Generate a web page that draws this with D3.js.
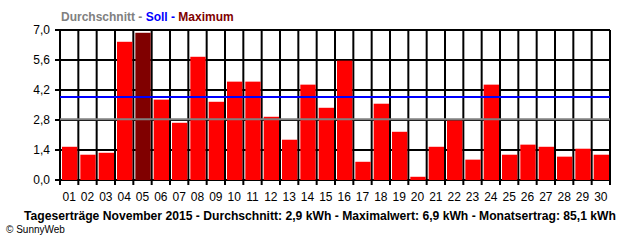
<!DOCTYPE html>
<html>
<head>
<meta charset="utf-8">
<script src="https://cdn.jsdelivr.net/npm/d3@7"></script>
<style>
  body { margin: 0; background: #fff; }
  svg { display: block; font-family: "Liberation Sans", Arial, sans-serif; }
</style>
</head>
<body>
<script>
// Daten
const tage = ['01', '02', '03', '04', '05', '06', '07', '08', '09', '10',
  '11', '12', '13', '14', '15', '16', '17', '18', '19', '20',
  '21', '22', '23', '24', '25', '26', '27', '28', '29', '30']

const ertrag = [1.55, 1.18, 1.27, 6.45, 6.87, 3.75, 2.67, 5.75, 3.65, 4.59,
  4.59, 2.95, 1.88, 4.45, 3.37, 5.57, 0.85, 3.56, 2.25, 0.15,
  1.55, 2.78, 0.95, 4.45, 1.18, 1.65, 1.55, 1.09, 1.46, 1.18]

const yTicks = [0, 1.4, 2.8, 4.2, 5.6, 7.0]
const durchschnitt = 2.84
const soll = 3.87

const titelTeile = [
  {text: 'Durchschnitt - ', farbe: '#808080'},
  {text: 'Soll - ', farbe: '#0000ff'},
  {text: 'Maximum', farbe: '#800000'}
]
const unterschrift = 'Tageserträge November 2015 - Durchschnitt: 2,9 kWh - Maximalwert: 6,9 kWh - Monatsertrag: 85,1 kWh'

// Abmessungen
const breite = 640
const hoehe = 240
const plot = {links: 60, rechts: 610, oben: 30, unten: 180}

const svg = d3.select('body').append('svg')
  .attr('width', breite)
  .attr('height', hoehe)

// Skalen
const x = d3.scaleBand()
  .domain(tage)
  .range([plot.links, plot.rechts])

const y = d3.scaleLinear()
  .domain([0, 7])
  .range([plot.unten, plot.oben])

const komma = d3.format('.1f')
const fmt = v => komma(v).replace('.', ',')

// horizontale Gitterlinien (mit Strich links)
svg.append('g').selectAll('line')
  .data(yTicks)
  .join('line')
    .attr('x1', plot.links - 5)
    .attr('x2', plot.rechts)
    .attr('y1', d => y(d))
    .attr('y2', d => y(d))
    .attr('stroke', '#000')
    .attr('stroke-width', 2)

// vertikale Gitterlinien an den Kategoriegrenzen
const grenzen = tage.map(d => x(d)).concat([plot.rechts])
svg.append('g').selectAll('line')
  .data(grenzen)
  .join('line')
    .attr('x1', d => d)
    .attr('x2', d => d)
    .attr('y1', plot.oben)
    .attr('y2', plot.unten + 5)
    .attr('stroke', '#000')
    .attr('stroke-width', 2)

// Balken
const maxIndex = d3.maxIndex(ertrag)
svg.append('g').selectAll('rect')
  .data(ertrag)
  .join('rect')
    .attr('x', (d, i) => x(tage[i]) + 2)
    .attr('width', x.bandwidth() - 3)
    .attr('y', d => y(d))
    .attr('height', d => y(0) - y(d))
    .attr('fill', (d, i) => i === maxIndex ? '#800000' : '#ff0000')

// Durchschnitt und Soll
svg.append('line')
  .attr('x1', plot.links).attr('x2', plot.rechts)
  .attr('y1', y(durchschnitt)).attr('y2', y(durchschnitt))
  .attr('stroke', '#808080').attr('stroke-width', 2)

svg.append('line')
  .attr('x1', plot.links).attr('x2', plot.rechts)
  .attr('y1', y(soll)).attr('y2', y(soll))
  .attr('stroke', '#0000ff').attr('stroke-width', 2)

// Achsen (nur Beschriftung)
const achseLinks = d3.axisLeft(y)
  .tickValues(yTicks)
  .tickFormat(fmt)
  .tickSize(0)
  .tickPadding(10)

const achseUnten = d3.axisBottom(x)
  .tickSize(0)
  .tickPadding(12)

const gLinks = svg.append('g')
  .attr('transform', 'translate(' + plot.links + ',0)')
  .call(achseLinks)

const gUnten = svg.append('g')
  .attr('transform', 'translate(0,' + plot.unten + ')')
  .call(achseUnten)

for (const g of [gLinks, gUnten]) {
  g.select('.domain').remove()
  g.selectAll('text')
    .attr('fill', '#000')
    .attr('font-size', 12)
    .attr('font-family', '"Liberation Sans", Arial, sans-serif')
}

// Titel oben
const titel = svg.append('text')
  .attr('x', 61)
  .attr('y', 21)
  .attr('font-size', 12)
  .attr('font-weight', 'bold')
  .attr('xml:space', 'preserve')
titel.selectAll('tspan')
  .data(titelTeile)
  .join('tspan')
    .attr('fill', d => d.farbe)
    .text(d => d.text)

// Unterschrift
svg.append('text')
  .attr('x', 24)
  .attr('y', 220)
  .attr('font-size', 12)
  .attr('font-weight', 'bold')
  .attr('fill', '#000')
  .attr('textLength', 592)
  .attr('lengthAdjust', 'spacingAndGlyphs')
  .text(unterschrift)

svg.append('text')
  .attr('x', 6)
  .attr('y', 233)
  .attr('font-size', 10)
  .attr('fill', '#000')
  .text('© SunnyWeb')
</script>
</body>
</html>
